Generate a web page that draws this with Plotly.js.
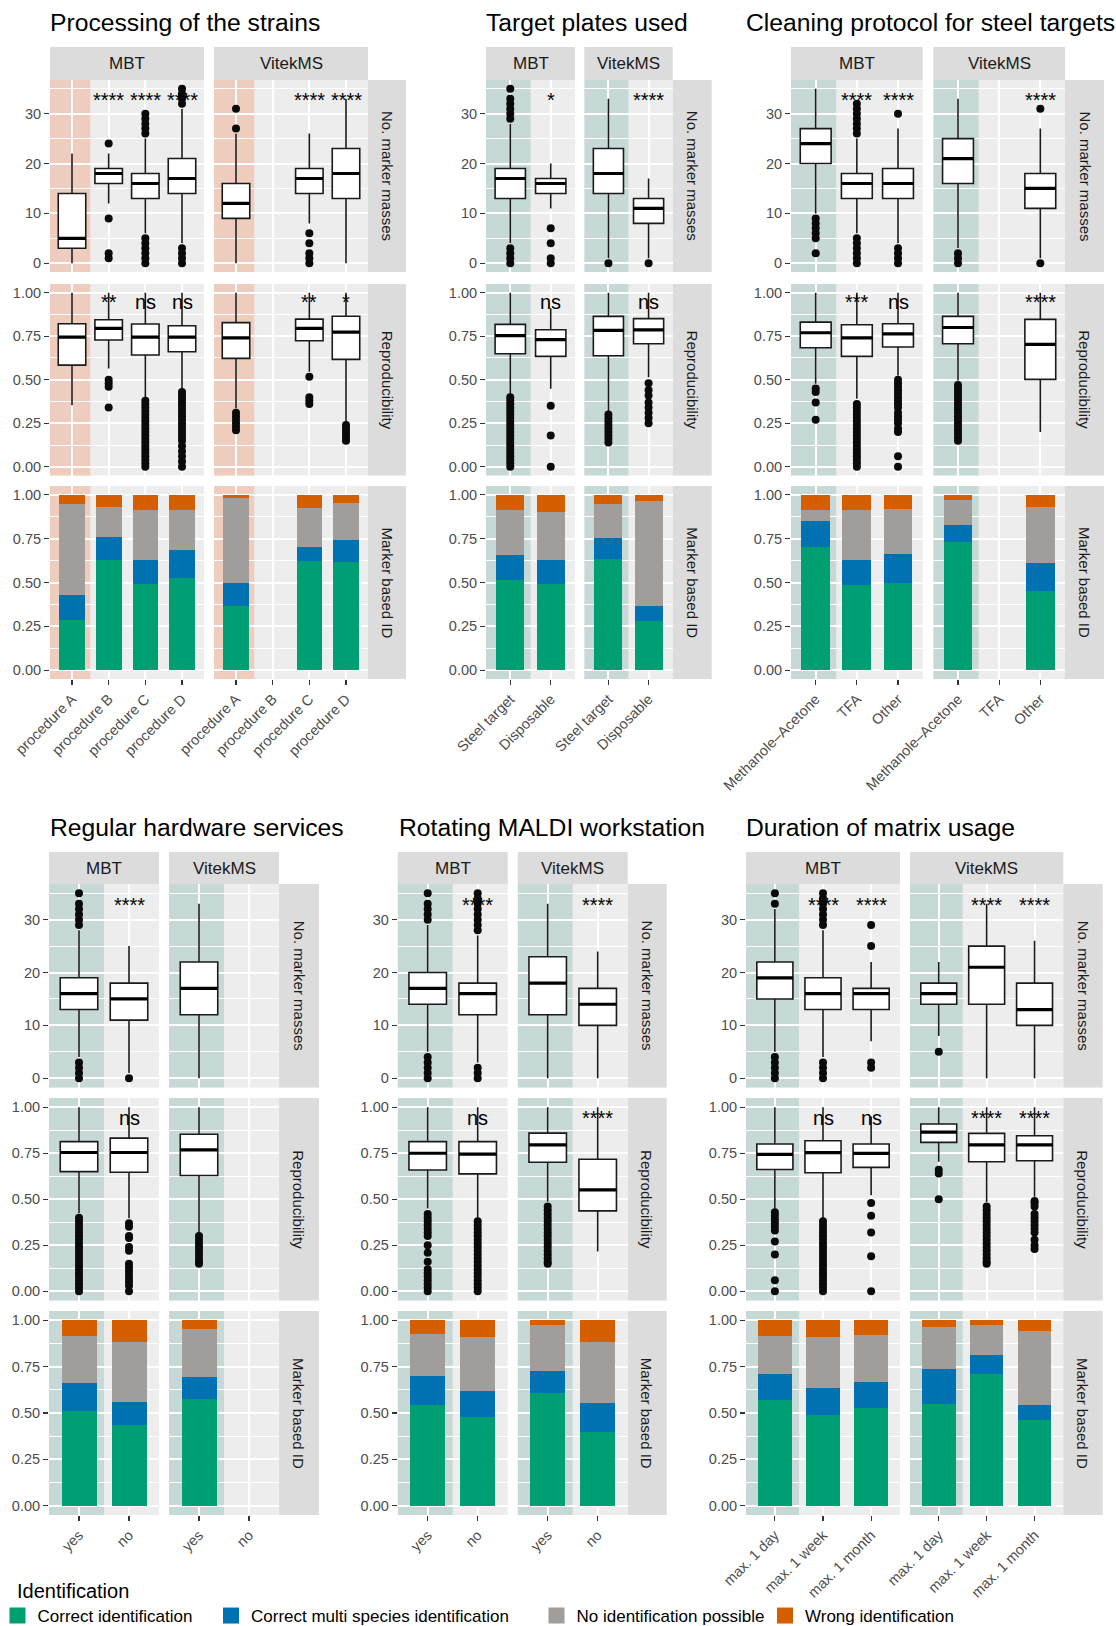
<!DOCTYPE html>
<html><head><meta charset="utf-8">
<script src="https://cdn.plot.ly/plotly-3.0.1.min.js"></script>
<style>html,body{margin:0;padding:0;background:#fff;overflow:hidden}#chart{width:1116px;height:1626px}</style>
</head><body><div id="chart"></div>
<script>
// ================= DATA =================
const instruments = ["MBT", "VitekMS"];
const rowLabels = ["No. marker masses", "Reproducibility", "Marker based ID"];
const idNames = ["Correct identification", "Correct multi species identification", "No identification possible", "Wrong identification"];
const idColors = ["#009E73", "#0072B2", "#A09D9A", "#D55E00"];
const legendTitle = "Identification";
// box stats: [lowerWhisker, q1, median, q3, upperWhisker]; null = no data
// ids: [correct, multi species, no identification, wrong]

// ---- Panel 1 ----
const p1_title = "Processing of the strains";
const p1_cats = ["procedure A", "procedure B", "procedure C", "procedure D"];
const p1_mbt_masses = [[0,3,5,14,22],[12,16,18,19,22],[6,13,16,18,25],[4,14,17,21,31]];
const p1_mbt_masses_out = [[],[24,9,2,1],[26,27,28,29,30,0,1,2,3,4,5],[32,33,34,35,0,1,2,3]];
const p1_vit_masses = [[0,9,12,16,26],null,[8,14,17,19,26],[0,13,18,23,33]];
const p1_vit_masses_out = [[27,31],[],[6,4,2,1,0],[]];
const p1_mbt_repro = [[0.354,0.584,0.745,0.822,1.0],[0.565,0.728,0.795,0.845,1.0],[0.393,0.642,0.745,0.82,1.0],[0.45,0.661,0.745,0.81,1.0]];
const p1_mbt_repro_out = [[],[0.5,0.48,0.46,0.34],
  [0.38,0.36,0.34,0.32,0.30,0.28,0.26,0.24,0.22,0.20,0.18,0.16,0.14,0.12,0.10,0.08,0.06,0.04,0.02,0],
  [0.43,0.41,0.39,0.37,0.35,0.33,0.31,0.29,0.27,0.25,0.23,0.21,0.19,0.17,0.15,0.12,0.09,0.06,0.03,0]];
const p1_vit_repro = [[0.335,0.623,0.74,0.828,1.0],null,[0.546,0.724,0.795,0.848,1.0],[0.259,0.617,0.773,0.865,1.0]];
const p1_vit_repro_out = [[0.31,0.29,0.27,0.25,0.23,0.21],[],[0.517,0.40,0.38,0.36],[0.24,0.22,0.20,0.18,0.16,0.15]];
const p1_mbt_ids = [[0.285,0.142,0.518,0.055],[0.626,0.131,0.171,0.072],[0.49,0.136,0.285,0.089],[0.526,0.157,0.228,0.089]];
const p1_vit_ids = [[0.364,0.131,0.484,0.021],null,[0.62,0.08,0.222,0.078],[0.615,0.125,0.211,0.049]];
const p1_mbt_sigM = ["","****","****","****"], p1_vit_sigM = ["","","****","****"];
const p1_mbt_sigR = ["","**","ns","ns"], p1_vit_sigR = ["","","**","*"];

// ---- Panel 2 ----
const p2_title = "Target plates used";
const p2_cats = ["Steel target", "Disposable"];
const p2_mbt_masses = [[4,13,17,19,28],[11,14,16,17,20]];
const p2_mbt_masses_out = [[29,30,31,32,33,35,0,1,2,3],[7,4,1,0]];
const p2_vit_masses = [[1,14,18,23,33],[1,8,11,13,17]];
const p2_vit_masses_out = [[0],[0]];
const p2_mbt_repro = [[0.41,0.649,0.753,0.818,1.0],[0.448,0.634,0.73,0.787,0.91]];
const p2_mbt_repro_out = [[0.40,0.38,0.36,0.34,0.32,0.30,0.28,0.26,0.24,0.22,0.20,0.18,0.16,0.14,0.12,0.10,0.08,0.06,0.04,0.02,0],[0.35,0.18,0]];
const p2_vit_repro = [[0.314,0.638,0.784,0.864,1.0],[0.515,0.707,0.787,0.851,1.0]];
const p2_vit_repro_out = [[0.30,0.28,0.26,0.24,0.22,0.20,0.18,0.16,0.14],[0.48,0.44,0.41,0.37,0.34,0.31,0.28,0.25]];
const p2_mbt_ids = [[0.512,0.143,0.256,0.089],[0.49,0.136,0.274,0.10]];
const p2_vit_ids = [[0.632,0.119,0.194,0.055],[0.279,0.085,0.598,0.038]];
const p2_mbt_sigM = ["","*"], p2_vit_sigM = ["","****"];
const p2_mbt_sigR = ["","ns"], p2_vit_sigR = ["","ns"];

// ---- Panel 3 ----
const p3_title = "Cleaning protocol for steel targets";
const p3_cats = ["Methanole\u2013Acetone", "TFA", "Other"];
const p3_mbt_masses = [[10,20,24,27,35],[6,13,16,18,25],[4,13,16,19,27]];
const p3_mbt_masses_out = [[9,8,7,6,5,2],[26,27,28,29,30,31,32,0,1,2,3,4,5],[30,0,1,2,3]];
const p3_vit_masses = [[3,16,21,25,33],null,[1,11,15,18,27]];
const p3_vit_masses_out = [[0,1,2],[],[31,0]];
const p3_mbt_repro = [[0.477,0.684,0.77,0.831,1.0],[0.391,0.634,0.741,0.816,1.0],[0.525,0.688,0.764,0.822,1.0]];
const p3_mbt_repro_out = [[0.45,0.43,0.37,0.27],
  [0.36,0.34,0.32,0.30,0.28,0.26,0.24,0.22,0.20,0.18,0.16,0.14,0.12,0.10,0.08,0.06,0.04,0.02,0],
  [0.50,0.48,0.46,0.44,0.42,0.40,0.38,0.36,0.34,0.31,0.29,0.27,0.25,0.22,0.20,0.06,0]];
const p3_vit_repro = [[0.496,0.707,0.80,0.864,1.0],null,[0.2,0.502,0.703,0.847,1.0]];
const p3_vit_repro_out = [[0.47,0.45,0.43,0.41,0.39,0.37,0.35,0.33,0.31,0.29,0.27,0.25,0.23,0.21,0.19,0.17,0.15],[],[]];
const p3_mbt_ids = [[0.70,0.148,0.063,0.089],[0.484,0.142,0.285,0.089],[0.495,0.165,0.257,0.083]];
const p3_vit_ids = [[0.729,0.096,0.143,0.032],null,[0.45,0.159,0.319,0.072]];
const p3_mbt_sigM = ["","****","****"], p3_vit_sigM = ["","","****"];
const p3_mbt_sigR = ["","***","ns"], p3_vit_sigR = ["","","****"];

// ---- Panel 4 ----
const p4_title = "Regular hardware services";
const p4_cats = ["yes", "no"];
const p4_mbt_masses = [[4,13,16,19,28],[1,11,15,18,25]];
const p4_mbt_masses_out = [[29,30,31,32,33,35,0,1,2,3],[0]];
const p4_vit_masses = [[0,12,17,22,33],null];
const p4_vit_masses_out = [[],[]];
const p4_mbt_repro = [[0.424,0.65,0.754,0.813,1.0],[0.397,0.647,0.754,0.832,1.0]];
const p4_mbt_repro_out = [[0.40,0.38,0.36,0.34,0.32,0.30,0.28,0.26,0.24,0.22,0.20,0.18,0.16,0.14,0.12,0.10,0.08,0.06,0.04,0.02,0],
  [0.37,0.35,0.30,0.29,0.24,0.22,0.15,0.13,0.11,0.09,0.07,0.05,0.03,0]];
const p4_vit_repro = [[0.315,0.629,0.768,0.853,1.0],null];
const p4_vit_repro_out = [[0.30,0.28,0.26,0.24,0.22,0.20,0.18,0.16,0.15],[]];
const p4_mbt_ids = [[0.512,0.151,0.254,0.083],[0.436,0.124,0.325,0.115]];
const p4_vit_ids = [[0.577,0.118,0.26,0.045],null];
const p4_mbt_sigM = ["","****"], p4_vit_sigM = ["",""];
const p4_mbt_sigR = ["","ns"], p4_vit_sigR = ["",""];

// ---- Panel 5 ----
const p5_title = "Rotating MALDI workstation";
const p5_cats = ["yes", "no"];
const p5_mbt_masses = [[5,14,17,20,29],[3,12,16,18,27]];
const p5_mbt_masses_out = [[30,31,32,33,35,0,1,2,3,4],[28,29,30,31,32,33,34,35,0,1,2]];
const p5_vit_masses = [[0,12,18,23,33],[0,10,14,17,24]];
const p5_vit_masses_out = [[],[]];
const p5_mbt_repro = [[0.45,0.659,0.75,0.813,1.0],[0.397,0.638,0.745,0.813,1.0]];
const p5_mbt_repro_out = [[0.42,0.40,0.38,0.36,0.34,0.32,0.30,0.25,0.21,0.16,0.12,0.10,0.08,0.06,0.04,0.02,0],
  [0.38,0.36,0.34,0.32,0.30,0.28,0.26,0.24,0.22,0.20,0.18,0.16,0.14,0.12,0.10,0.08,0.06,0.04,0.02,0]];
const p5_vit_repro = [[0.487,0.701,0.795,0.859,1.0],[0.216,0.437,0.551,0.717,1.0]];
const p5_vit_repro_out = [[0.46,0.44,0.42,0.40,0.38,0.36,0.34,0.32,0.30,0.28,0.26,0.24,0.22,0.20,0.18,0.16,0.15],[]];
const p5_mbt_ids = [[0.542,0.155,0.227,0.076],[0.48,0.141,0.287,0.092]];
const p5_vit_ids = [[0.61,0.114,0.249,0.027],[0.399,0.157,0.325,0.119]];
const p5_mbt_sigM = ["","****"], p5_vit_sigM = ["","****"];
const p5_mbt_sigR = ["","ns"], p5_vit_sigR = ["","****"];

// ---- Panel 6 ----
const p6_title = "Duration of matrix usage";
const p6_cats = ["max. 1 day", "max. 1 week", "max. 1 month"];
const p6_mbt_masses = [[5,15,19,22,32],[4,13,16,19,28],[7,13,16,17,22]];
const p6_mbt_masses_out = [[33,35,0,1,2,3,4],[29,30,31,32,33,34,35,0,1,2,3],[29,25,3,2]];
const p6_vit_masses = [[8,14,16,18,22],[0,14,21,25,33],[0,10,13,18,26]];
const p6_vit_masses_out = [[5],[],[]];
const p6_mbt_repro = [[0.449,0.662,0.744,0.80,1.0],[0.395,0.644,0.753,0.818,1.0],[0.522,0.673,0.749,0.80,0.95]];
const p6_mbt_repro_out = [[0.43,0.41,0.39,0.37,0.35,0.33,0.27,0.20,0.06,0],
  [0.38,0.36,0.34,0.32,0.30,0.28,0.26,0.24,0.22,0.20,0.18,0.16,0.14,0.12,0.10,0.08,0.06,0.04,0.02,0],
  [0.48,0.41,0.32,0.19,0]];
const p6_vit_repro = [[0.704,0.809,0.865,0.909,1.0],[0.485,0.704,0.795,0.858,1.0],[0.513,0.709,0.795,0.845,1.0]];
const p6_vit_repro_out = [[0.66,0.64,0.50],
  [0.46,0.44,0.42,0.40,0.38,0.36,0.34,0.32,0.30,0.28,0.26,0.24,0.22,0.20,0.18,0.16,0.15],
  [0.49,0.48,0.46,0.42,0.40,0.38,0.36,0.34,0.32,0.28,0.25,0.23]];
const p6_mbt_ids = [[0.571,0.141,0.205,0.083],[0.49,0.146,0.276,0.088],[0.528,0.139,0.256,0.077]];
const p6_vit_ids = [[0.55,0.189,0.227,0.034],[0.712,0.102,0.163,0.023],[0.463,0.081,0.40,0.056]];
const p6_mbt_sigM = ["","****","****"], p6_vit_sigM = ["","****","****"];
const p6_mbt_sigR = ["","ns","ns"], p6_vit_sigR = ["","****","****"];

// ================= ASSEMBLY =================
const mk = (m, mo, r, ro, ids, sm, sr) => ({masses:m, massesOut:mo, repro:r, reproOut:ro, ids:ids, sigM:sm, sigR:sr});
const SHADE_ORANGE = "#EECDBE", SHADE_TEAL = "#C6D9D6";
const panels = [
  {title:p1_title, cats:p1_cats, shade:SHADE_ORANGE, inst:[
    mk(p1_mbt_masses,p1_mbt_masses_out,p1_mbt_repro,p1_mbt_repro_out,p1_mbt_ids,p1_mbt_sigM,p1_mbt_sigR),
    mk(p1_vit_masses,p1_vit_masses_out,p1_vit_repro,p1_vit_repro_out,p1_vit_ids,p1_vit_sigM,p1_vit_sigR)]},
  {title:p2_title, cats:p2_cats, shade:SHADE_TEAL, inst:[
    mk(p2_mbt_masses,p2_mbt_masses_out,p2_mbt_repro,p2_mbt_repro_out,p2_mbt_ids,p2_mbt_sigM,p2_mbt_sigR),
    mk(p2_vit_masses,p2_vit_masses_out,p2_vit_repro,p2_vit_repro_out,p2_vit_ids,p2_vit_sigM,p2_vit_sigR)]},
  {title:p3_title, cats:p3_cats, shade:SHADE_TEAL, inst:[
    mk(p3_mbt_masses,p3_mbt_masses_out,p3_mbt_repro,p3_mbt_repro_out,p3_mbt_ids,p3_mbt_sigM,p3_mbt_sigR),
    mk(p3_vit_masses,p3_vit_masses_out,p3_vit_repro,p3_vit_repro_out,p3_vit_ids,p3_vit_sigM,p3_vit_sigR)]},
  {title:p4_title, cats:p4_cats, shade:SHADE_TEAL, inst:[
    mk(p4_mbt_masses,p4_mbt_masses_out,p4_mbt_repro,p4_mbt_repro_out,p4_mbt_ids,p4_mbt_sigM,p4_mbt_sigR),
    mk(p4_vit_masses,p4_vit_masses_out,p4_vit_repro,p4_vit_repro_out,p4_vit_ids,p4_vit_sigM,p4_vit_sigR)]},
  {title:p5_title, cats:p5_cats, shade:SHADE_TEAL, inst:[
    mk(p5_mbt_masses,p5_mbt_masses_out,p5_mbt_repro,p5_mbt_repro_out,p5_mbt_ids,p5_mbt_sigM,p5_mbt_sigR),
    mk(p5_vit_masses,p5_vit_masses_out,p5_vit_repro,p5_vit_repro_out,p5_vit_ids,p5_vit_sigM,p5_vit_sigR)]},
  {title:p6_title, cats:p6_cats, shade:SHADE_TEAL, inst:[
    mk(p6_mbt_masses,p6_mbt_masses_out,p6_mbt_repro,p6_mbt_repro_out,p6_mbt_ids,p6_mbt_sigM,p6_mbt_sigR),
    mk(p6_vit_masses,p6_vit_masses_out,p6_vit_repro,p6_vit_repro_out,p6_vit_ids,p6_vit_sigM,p6_vit_sigR)]}
];

// ================= GEOMETRY (pixels) =================
const W = 1116, H = 1626;
const FONT = "Liberation Sans, Arial, Helvetica, sans-serif";
const topRows = [[80,272],[284,475.5],[486,679]];
const botRows = [[884,1087.5],[1098,1300.5],[1311,1515]];
const GEO = [
  {x:[[50,204],[214,368]], rs:[368,406], rows:topRows, st:[47,80], tx:47.5, ty:22},
  {x:[[486,575],[584.3,672.7]], rs:[672.7,711.7], rows:topRows, st:[47,80], tx:484, ty:22},
  {x:[[791,922.7],[933.3,1065]], rs:[1065,1104], rows:topRows, st:[47,80], tx:744, ty:22},
  {x:[[49,159],[169,279]], rs:[279,319], rows:botRows, st:[852,884], tx:47.5, ty:827},
  {x:[[397.7,507.7],[517.7,627.7]], rs:[627.7,666.7], rows:botRows, st:[852,884], tx:397, ty:827},
  {x:[[746,900],[910,1063.3]], rs:[1063.3,1102.7], rows:botRows, st:[852,884], tx:744, ty:827}
];
const px = v => v / W, py = v => 1 - v / H;

const layout = {
  width: W, height: H, margin: {l:0, r:0, t:0, b:0, autoexpand:false},
  paper_bgcolor: "#ffffff", plot_bgcolor: "#EDEDED",
  barmode: "stack", boxmode: "overlay", showlegend: true,
  font: {family: FONT, color: "#000"},
  shapes: [], annotations: []
};
const data = [];
const tickFont = {family: FONT, size: 14.5, color: "#4D4D4D"};
const STRIP = "#DCDCDC";

let k = 0;
panels.forEach((P, pi) => {
  const G = GEO[pi];
  const n = P.cats.length;
  layout.annotations.push({xref:"paper", yref:"paper", x:px(G.tx), y:py(G.ty), xanchor:"left", yanchor:"middle",
    text:P.title, showarrow:false, font:{family:FONT, size:24.7, color:"#000"}});
  P.inst.forEach((I, ci) => {
    layout.shapes.push({type:"rect", xref:"paper", yref:"paper", x0:px(G.x[ci][0]), x1:px(G.x[ci][1]),
      y0:py(G.st[1]), y1:py(G.st[0]), fillcolor:STRIP, line:{width:0}, layer:"below"});
    layout.annotations.push({xref:"paper", yref:"paper", x:px((G.x[ci][0]+G.x[ci][1])/2), y:py((G.st[0]+G.st[1])/2),
      text:instruments[ci], showarrow:false, font:{family:FONT, size:17, color:"#1A1A1A"}, xanchor:"center", yanchor:"middle"});
    for (let r = 0; r < 3; r++) {
      k++;
      const s = k === 1 ? "" : String(k);
      const xa = "x" + s, ya = "y" + s;
      layout["xaxis" + s] = {
        domain:[px(G.x[ci][0]), px(G.x[ci][1])], anchor:ya, type:"category",
        categoryorder:"array", categoryarray:P.cats, range:[-0.6, n - 0.4],
        showgrid:true, gridcolor:"#FFFFFF", gridwidth:2, zeroline:false, showline:false,
        ticks: r === 2 ? "outside" : "", ticklen:5, tickwidth:1.2, tickcolor:"#333333",
        showticklabels: r === 2, tickangle:-45, tickfont:tickFont, fixedrange:true
      };
      const yr = r === 0 ? [-1.75, 36.75] : [-0.05, 1.05];
      layout["yaxis" + s] = {
        domain:[py(G.rows[r][1]), py(G.rows[r][0])], anchor:xa, range:yr,
        tickmode:"linear", tick0:0, dtick: r === 0 ? 10 : 0.25, tickformat: r === 0 ? "d" : ".2f",
        showgrid:true, gridcolor:"#FFFFFF", gridwidth:2, zeroline:false, showline:false,
        minor:{tick0:0, dtick: r === 0 ? 5 : 0.125, showgrid:true, gridcolor:"#FFFFFF", gridwidth:1, ticks:""},
        ticks: ci === 0 ? "outside" : "", ticklen:5, tickwidth:1.2, tickcolor:"#333333",
        showticklabels: ci === 0, tickfont:tickFont, fixedrange:true
      };
      layout.shapes.push({type:"rect", xref:xa, yref:ya + " domain", x0:-0.6, x1:0.5, y0:0, y1:1,
        fillcolor:P.shade, line:{width:0}, layer:"below"});
      if (r < 2) {
        const stats = r === 0 ? I.masses : I.repro;
        const outs = r === 0 ? I.massesOut : I.reproOut;
        const sig = r === 0 ? I.sigM : I.sigR;
        const bx = [], lf = [], q1 = [], md = [], q3 = [], uf = [];
        stats.forEach((st, i) => { if (st) { bx.push(P.cats[i]); lf.push(st[0]); q1.push(st[1]); md.push(st[2]); q3.push(st[3]); uf.push(st[4]); } });
        data.push({type:"box", xaxis:xa, yaxis:ya, x:bx, lowerfence:lf, q1:q1, median:md, q3:q3, upperfence:uf,
          boxpoints:false, width:0.75, whiskerwidth:0, fillcolor:"#FFFFFF", line:{color:"#1A1A1A", width:1.6},
          showlegend:false, hoverinfo:"skip"});
        data.push({type:"box", xaxis:xa, yaxis:ya, x:bx, lowerfence:md, q1:md, median:md, q3:md, upperfence:md,
          boxpoints:false, width:0.75, whiskerwidth:0, fillcolor:"rgba(0,0,0,0)", line:{color:"#000000", width:3.2},
          showlegend:false, hoverinfo:"skip"});
        const ox = [], oy = [];
        outs.forEach((arr, i) => arr.forEach(v => { ox.push(P.cats[i]); oy.push(v); }));
        data.push({type:"scatter", mode:"markers", xaxis:xa, yaxis:ya, x:ox, y:oy, cliponaxis:false,
          marker:{color:"#0A0A0A", size:8}, showlegend:false, hoverinfo:"skip"});
        sig.forEach((t, i) => { if (t) layout.annotations.push({xref:xa, yref:ya, x:P.cats[i], y: r === 0 ? 32.8 : 0.944,
          text:t, showarrow:false, xanchor:"center", yanchor:"middle", font:{family:FONT, size:20, color:"#000"}}); });
      } else {
        idNames.forEach((nm, j) => {
          const bx = [], by = [];
          I.ids.forEach((v, i) => { if (v) { bx.push(P.cats[i]); by.push(v[j]); } });
          data.push({type:"bar", xaxis:xa, yaxis:ya, x:bx, y:by, width:0.7, name:nm,
            marker:{color:idColors[j], line:{width:0}}, showlegend:false, hoverinfo:"skip"});
        });
      }
      if (ci === 1) {
        layout.shapes.push({type:"rect", xref:"paper", yref:"paper", x0:px(G.rs[0]), x1:px(G.rs[1]),
          y0:py(G.rows[r][1]), y1:py(G.rows[r][0]), fillcolor:STRIP, line:{width:0}, layer:"below"});
        layout.annotations.push({xref:"paper", yref:"paper", x:px((G.rs[0]+G.rs[1])/2), y:py((G.rows[r][0]+G.rows[r][1])/2),
          text:rowLabels[r], textangle:90, showarrow:false, xanchor:"center", yanchor:"middle",
          font:{family:FONT, size:15, color:"#1A1A1A"}});
      }
    }
  });
});

// ================= LEGEND =================
const legendTextX = [37.5, 251, 576.5, 805];
idNames.forEach((nm, j) => {
  const lid = j === 0 ? "legend" : "legend" + (j + 1);
  data.push({type:"scatter", mode:"markers", x:[null], y:[null], xaxis:"x", yaxis:"y", name:nm,
    marker:{symbol:"square", size:16, color:idColors[j]}, legend:lid, showlegend:true, hoverinfo:"skip"});
  layout[lid] = {x:px(legendTextX[j] - 40), y:py(1616), xanchor:"left", yanchor:"middle", orientation:"h",
    bgcolor:"rgba(0,0,0,0)", borderwidth:0, font:{family:FONT, size:17, color:"#000"}};
});
layout.annotations.push({xref:"paper", yref:"paper", x:px(15), y:py(1591), xanchor:"left", yanchor:"middle",
  text:legendTitle, showarrow:false, font:{family:FONT, size:20, color:"#000"}});

Plotly.newPlot("chart", data, layout, {staticPlot:true, displayModeBar:false});
</script>
</body></html>
